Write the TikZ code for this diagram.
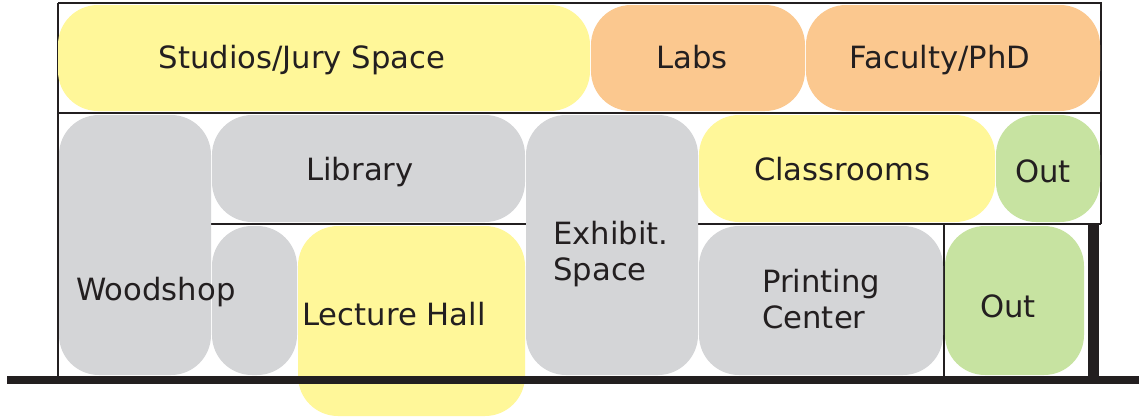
\documentclass[tikz,border=0pt]{standalone}
\usepackage{fontspec}
\setmainfont{DejaVu Sans}
\definecolor{roomyellow}{HTML}{FFF799}
\definecolor{roomorange}{HTML}{FBC88F}
\definecolor{roomgray}{HTML}{D4D5D7}
\definecolor{roomgreen}{HTML}{C7E3A1}
\definecolor{wallblack}{HTML}{231F20}

\begin{document}
\begin{tikzpicture}[x=0.75pt,y=0.75pt,yscale=-1,xscale=1,
  room/.style={rounded corners=30pt},
  label/.style={text=wallblack,inner sep=0pt,font=\fontsize{23}{27}\selectfont},
  thinwall/.style={draw=wallblack,line width=1.4pt}]
\fill [white] (0,0) rectangle (1139,418);
\path [use as bounding box] (0,0) rectangle (1139,418);

%Frame lines
\draw [thinwall] (58,3) -- (1101,3) -- (1101,224) ;
\draw [thinwall] (58,113) -- (1101,113) ;
\draw [thinwall] (210,224) -- (1101,224) ;
\draw [thinwall,line width=0.8pt] (58,3) -- (58,378) ;
\draw [thinwall,line width=0.8pt] (944,224) -- (944,378) ;

%Shape: Rounded Rect (top row)
\fill [room,roomyellow] (58,5) rectangle (590,111) ;
\fill [room,roomorange] (591,5) rectangle (805,111) ;
\fill [room,roomorange] (806,5) rectangle (1100,111) ;
%Shape: Rounded Rect (middle row)
\fill [room,roomgray] (59,115) rectangle (211,375) ;
\fill [room,roomgray] (212,115) rectangle (525,222) ;
\fill [room,roomgray] (526,115) rectangle (698,375) ;
\fill [room,roomyellow] (699,115) rectangle (995,222) ;
\fill [room,roomgreen] (996,115) rectangle (1100,222) ;
%Shape: Rounded Rect (bottom row)
\fill [room,roomgray] (212,226) rectangle (297,375) ;
\fill [room,roomyellow] (298,226) rectangle (525,416) ;
\fill [room,roomgray] (699,226) rectangle (943,375) ;
\fill [room,roomgreen] (945,226) rectangle (1084,375) ;

% Text Node
\draw (302,68) node [label,anchor=base] (studios) {Studios/Jury Space};
% Text Node
\draw (692,68) node [label,anchor=base] (labs) {Labs};
% Text Node
\draw (940,68) node [label,anchor=base] (faculty) {Faculty/PhD};
% Text Node
\draw (360,180) node [label,anchor=base] (library) {Library};
% Text Node
\draw (842,180) node [label,anchor=base] (classrooms) {Classrooms};
% Text Node
\draw (1043,182) node [label,anchor=base] (outtop) {Out};
% Text Node
\draw (76,300) node [label,anchor=base west] (woodshop) {Woodshop};
% Text Node
\draw (553,254) node [label,anchor=west,align=left] (exhibit) {Exhibit.\\Space};
% Text Node
\draw (762,299) node [label,anchor=west,align=left] (printing) {Printing\\Center};
% Text Node
\draw (394,325) node [label,anchor=base] (lecture) {Lecture Hall};
% Text Node
\draw (1008,317) node [label,anchor=base] (outbottom) {Out};

%Ground and wall
\draw [wallblack,line width=8pt] (1093.5,224) -- (1093.5,378) ;
\draw [wallblack,line width=6pt] (7,380) -- (1139,380) ;

\end{tikzpicture}
\end{document}
